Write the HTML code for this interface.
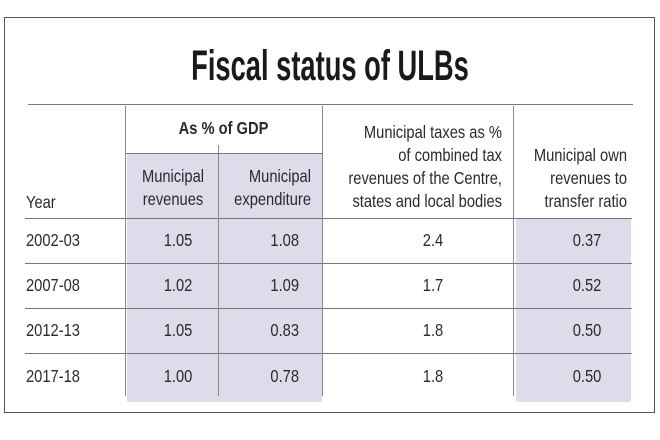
<!DOCTYPE html>
<html><head><meta charset="utf-8"><style>
html,body{margin:0;padding:0;background:#fff;}
body{width:660px;height:440px;position:relative;overflow:hidden;font-family:"Liberation Sans",sans-serif;color:#2a2a2a;}
.a{position:absolute;}
.h{position:absolute;height:1px;background:#777;}
.v{position:absolute;width:1px;background:#888;}
.t{position:absolute;font-size:17.5px;line-height:23px;white-space:nowrap;transform:scaleX(0.84);}
.l{transform-origin:left center;}
.r{transform-origin:right center;text-align:right;}
.c{transform-origin:center center;text-align:center;}
.sh{position:absolute;background:#dcdcea;border-radius:2px;}
</style></head><body>
<div class="a" style="left:4px;top:17px;width:649px;height:394px;border:1.5px solid #555;"></div>
<div class="a" style="left:0;width:660px;top:41px;text-align:center;font-weight:bold;font-size:43px;line-height:50px;color:#1a1a1a;transform:scaleX(0.635);">Fiscal status of ULBs</div>
<div class="sh" style="left:127px;top:153px;width:195px;height:249px;"></div>
<div class="sh" style="left:516px;top:218px;width:115px;height:184px;"></div>
<div class="h" style="left:28px;width:605px;top:104px;"></div>
<div class="h" style="left:125px;width:197px;top:153px;"></div>
<div class="h" style="left:25px;width:607px;top:218px;"></div>
<div class="h" style="left:25px;width:607px;top:263px;"></div>
<div class="h" style="left:25px;width:607px;top:308px;"></div>
<div class="h" style="left:25px;width:607px;top:353px;"></div>
<div class="v" style="left:125px;top:106px;height:290px;"></div>
<div class="v" style="left:218px;top:145px;height:251px;"></div>
<div class="v" style="left:322px;top:106px;height:290px;"></div>
<div class="v" style="left:513px;top:106px;height:290px;"></div>
<div class="t c" style="left:125px;width:197px;top:117px;font-weight:bold;">As % of GDP</div>
<div class="t l" style="left:26px;top:191px;">Year</div>
<div class="t c" style="left:127px;width:92px;top:165px;">Municipal<br>revenues</div>
<div class="t r" style="left:200px;width:111px;top:165px;">Municipal<br>expenditure</div>
<div class="t r" style="left:282px;width:220px;top:121px;">Municipal taxes as %<br>of combined tax<br>revenues of the Centre,<br>states and local bodies</div>
<div class="t r" style="left:493px;width:134px;top:144px;">Municipal own<br>revenues to<br>transfer ratio</div>
<div class="t l" style="left:26px;top:229px;">2002-03</div>
<div class="t l" style="left:26px;top:274px;">2007-08</div>
<div class="t l" style="left:26px;top:319px;">2012-13</div>
<div class="t l" style="left:26px;top:365px;">2017-18</div>
<div class="t c" style="left:128px;width:100px;top:229px;">1.05</div>
<div class="t c" style="left:128px;width:100px;top:274px;">1.02</div>
<div class="t c" style="left:128px;width:100px;top:319px;">1.05</div>
<div class="t c" style="left:128px;width:100px;top:365px;">1.00</div>
<div class="t r" style="left:220px;width:79px;top:229px;">1.08</div>
<div class="t r" style="left:220px;width:79px;top:274px;">1.09</div>
<div class="t r" style="left:220px;width:79px;top:319px;">0.83</div>
<div class="t r" style="left:220px;width:79px;top:365px;">0.78</div>
<div class="t c" style="left:383px;width:100px;top:229px;">2.4</div>
<div class="t c" style="left:383px;width:100px;top:274px;">1.7</div>
<div class="t c" style="left:383px;width:100px;top:319px;">1.8</div>
<div class="t c" style="left:383px;width:100px;top:365px;">1.8</div>
<div class="t c" style="left:537px;width:100px;top:229px;">0.37</div>
<div class="t c" style="left:537px;width:100px;top:274px;">0.52</div>
<div class="t c" style="left:537px;width:100px;top:319px;">0.50</div>
<div class="t c" style="left:537px;width:100px;top:365px;">0.50</div>
</body></html>
